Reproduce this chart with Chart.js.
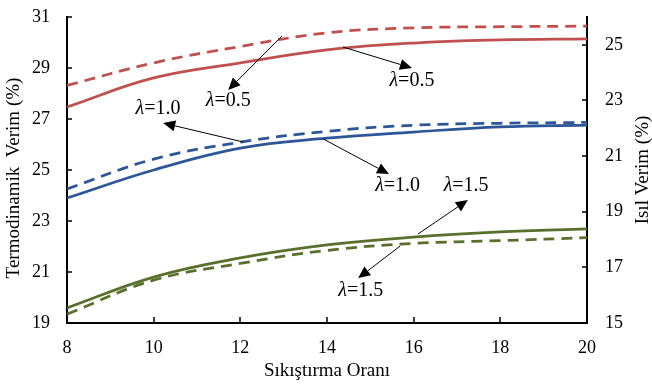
<!DOCTYPE html>
<html>
<head>
<meta charset="utf-8">
<script src="https://cdn.jsdelivr.net/npm/chart.js@4"></script>
<style>
  html, body { margin: 0; padding: 0; background: #fff; }
  #wrap { width: 652px; height: 385px; }
</style>
</head>
<body>
<div id="wrap"><canvas id="chart" width="652" height="385"></canvas></div>
<script>
// Veriler
const compressionRatio = [8, 10, 12, 14, 16, 18, 20];
const thermoLambda05 = [27.47, 28.61, 29.20, 29.71, 29.98, 30.10, 30.14];
const thermoLambda10 = [23.90, 25.00, 25.86, 26.25, 26.49, 26.69, 26.76];
const thermoLambda15 = [19.59, 20.80, 21.55, 22.06, 22.37, 22.57, 22.69];
const thermalLambda05 = [23.54, 24.35, 24.94, 25.43, 25.61, 25.65, 25.67];
const thermalLambda10 = [19.82, 20.89, 21.50, 21.89, 22.11, 22.18, 22.21];
const thermalLambda15 = [15.32, 16.54, 17.14, 17.61, 17.86, 17.96, 18.07];
const leftTicks = [19, 21, 23, 25, 27, 29, 31];
const rightTicks = [15, 17, 19, 21, 23, 25];
const xTicks = [8, 10, 12, 14, 16, 18, 20];

// Etiketler ve oklar (x, sol eksen birimlerinde)
const callouts = [
  { text: '0.5', x: 11.72, y: 27.72, from: [12.96, 30.25], to: [11.72, 28.14] },
  { text: '1.0', x: 10.10, y: 27.40, from: [12.06, 26.10], to: [10.22, 26.84] },
  { text: '0.5', x: 15.96, y: 28.50, from: [14.37, 29.82], to: [15.96, 29.00] },
  { text: '1.0', x: 15.63, y: 24.38, from: [13.91, 26.22], to: [15.43, 24.84] },
  { text: '1.5', x: 17.21, y: 24.38, from: [16.10, 22.49], to: [17.25, 23.82] },
  { text: '1.5', x: 14.78, y: 20.26, from: [15.69, 22.02], to: [14.72, 20.76] }
];

const serif = '"Liberation Serif", "DejaVu Serif", serif';
const red = '#C0504D';
const blue = '#2C5697';
const green = '#58702C';

function toPoints(xs, ys) {
  return xs.map((x, i) => ({ x: x, y: ys[i] }));
}

function solid(data, color) {
  return { data: toPoints(compressionRatio, data), yAxisID: 'y', borderColor: color,
    borderWidth: 2.75, pointRadius: 0, tension: 0.4, fill: false };
}

function dashed(data, color) {
  return { data: toPoints(compressionRatio, data), yAxisID: 'y1', borderColor: color,
    borderWidth: 2.75, borderDash: [11, 7], pointRadius: 0, tension: 0.4, fill: false };
}

// dikey eksenlerin ekstra ust/alt boslugunu kaldir
function fixVertical(width) {
  return s => {
    s.width = width;
    s.paddingTop = 0;
    s.paddingBottom = 0;
  };
}

const decorPlugin = {
  id: 'decor',
  afterDraw(chart) {
    const ctx = chart.ctx;
    const sx = chart.scales.x, sy = chart.scales.y, sy1 = chart.scales.y1;
    const area = chart.chartArea;
    ctx.save();

    // Iceri dogru tik cizgileri
    ctx.strokeStyle = '#000';
    ctx.lineWidth = 1.5;
    ctx.beginPath();
    xTicks.forEach(v => {
      const px = Math.round(sx.getPixelForValue(v));
      ctx.moveTo(px, area.bottom);
      ctx.lineTo(px, area.bottom - 6);
    });
    leftTicks.forEach(v => {
      const py = Math.round(sy.getPixelForValue(v));
      ctx.moveTo(area.left, py);
      ctx.lineTo(area.left + 5, py);
    });
    rightTicks.forEach(v => {
      const py = Math.round(sy1.getPixelForValue(v));
      ctx.moveTo(area.right, py);
      ctx.lineTo(area.right - 5, py);
    });
    ctx.stroke();

    // Oklar
    ctx.lineWidth = 1;
    ctx.fillStyle = '#000';
    callouts.forEach(c => {
      const x0 = sx.getPixelForValue(c.from[0]), y0 = sy.getPixelForValue(c.from[1]);
      const x1 = sx.getPixelForValue(c.to[0]), y1 = sy.getPixelForValue(c.to[1]);
      const ang = Math.atan2(y1 - y0, x1 - x0);
      const len = 12, half = 5.5;
      const bx = x1 - len * Math.cos(ang), by = y1 - len * Math.sin(ang);
      ctx.beginPath();
      ctx.moveTo(x0, y0);
      ctx.lineTo(bx, by);
      ctx.stroke();
      ctx.beginPath();
      ctx.moveTo(x1, y1);
      ctx.lineTo(bx + half * Math.sin(ang), by - half * Math.cos(ang));
      ctx.lineTo(bx - half * Math.sin(ang), by + half * Math.cos(ang));
      ctx.closePath();
      ctx.fill();
    });

    // Etiket yazilari (lambda italik)
    ctx.textBaseline = 'middle';
    ctx.textAlign = 'left';
    callouts.forEach(c => {
      const cx = sx.getPixelForValue(c.x), cy = sy.getPixelForValue(c.y);
      ctx.font = 'italic 20px ' + serif;
      const wl = ctx.measureText('\u03bb').width;
      ctx.font = '20px ' + serif;
      const rest = '=' + c.text;
      const wr = ctx.measureText(rest).width;
      const start = cx - (wl + wr) / 2;
      ctx.font = 'italic 20px ' + serif;
      ctx.fillText('\u03bb', start, cy);
      ctx.font = '20px ' + serif;
      ctx.fillText(rest, start + wl, cy);
    });

    // Eksen basliklari
    ctx.font = '19px ' + serif;
    ctx.textAlign = 'center';
    ctx.fillText('S\u0131k\u0131\u015ft\u0131rma Oran\u0131', (area.left + area.right) / 2, 371);
    const midY = (area.top + area.bottom) / 2;
    ctx.save();
    ctx.translate(14, midY + 8);
    ctx.rotate(-Math.PI / 2);
    ctx.fillText('Termodinamik  Verim (%)', 0, 0);
    ctx.restore();
    ctx.save();
    ctx.translate(643, midY);
    ctx.rotate(-Math.PI / 2);
    ctx.fillText('Is\u0131l Verim (%)', 0, 0);
    ctx.restore();

    ctx.restore();
  }
};

new Chart(document.getElementById('chart'), {
  type: 'line',
  data: {
    datasets: [
      solid(thermoLambda05, red),
      dashed(thermalLambda05, red),
      solid(thermoLambda10, blue),
      dashed(thermalLambda10, blue),
      solid(thermoLambda15, green),
      dashed(thermalLambda15, green)
    ]
  },
  options: {
    responsive: false,
    animation: false,
    layout: { padding: { top: 17, left: 0, right: 0, bottom: 0 } },
    plugins: { legend: { display: false }, tooltip: { enabled: false } },
    scales: {
      x: {
        type: 'linear', min: 8, max: 20,
        afterBuildTicks: s => { s.ticks = xTicks.map(v => ({ value: v })); },
        afterFit: s => { s.height = 62; s.paddingLeft = 0; s.paddingRight = 0; },
        grid: { display: false, drawTicks: false },
        border: { display: true, color: '#000', width: 2 },
        ticks: { padding: 14, color: '#000', font: { family: serif, size: 18 } }
      },
      y: {
        position: 'left', min: 19, max: 31,
        afterBuildTicks: s => { s.ticks = leftTicks.map(v => ({ value: v })); },
        afterFit: fixVertical(67),
        grid: { display: false, drawTicks: false },
        border: { display: true, color: '#000', width: 2 },
        ticks: { padding: 17, color: '#000', font: { family: serif, size: 18 } }
      },
      y1: {
        position: 'right', min: 15, max: 26,
        afterBuildTicks: s => { s.ticks = rightTicks.map(v => ({ value: v })); },
        afterFit: fixVertical(65),
        grid: { display: false, drawTicks: false },
        border: { display: true, color: '#000', width: 2 },
        ticks: { padding: 18, color: '#000', font: { family: serif, size: 18 } }
      }
    }
  },
  plugins: [decorPlugin]
});
</script>
</body>
</html>
